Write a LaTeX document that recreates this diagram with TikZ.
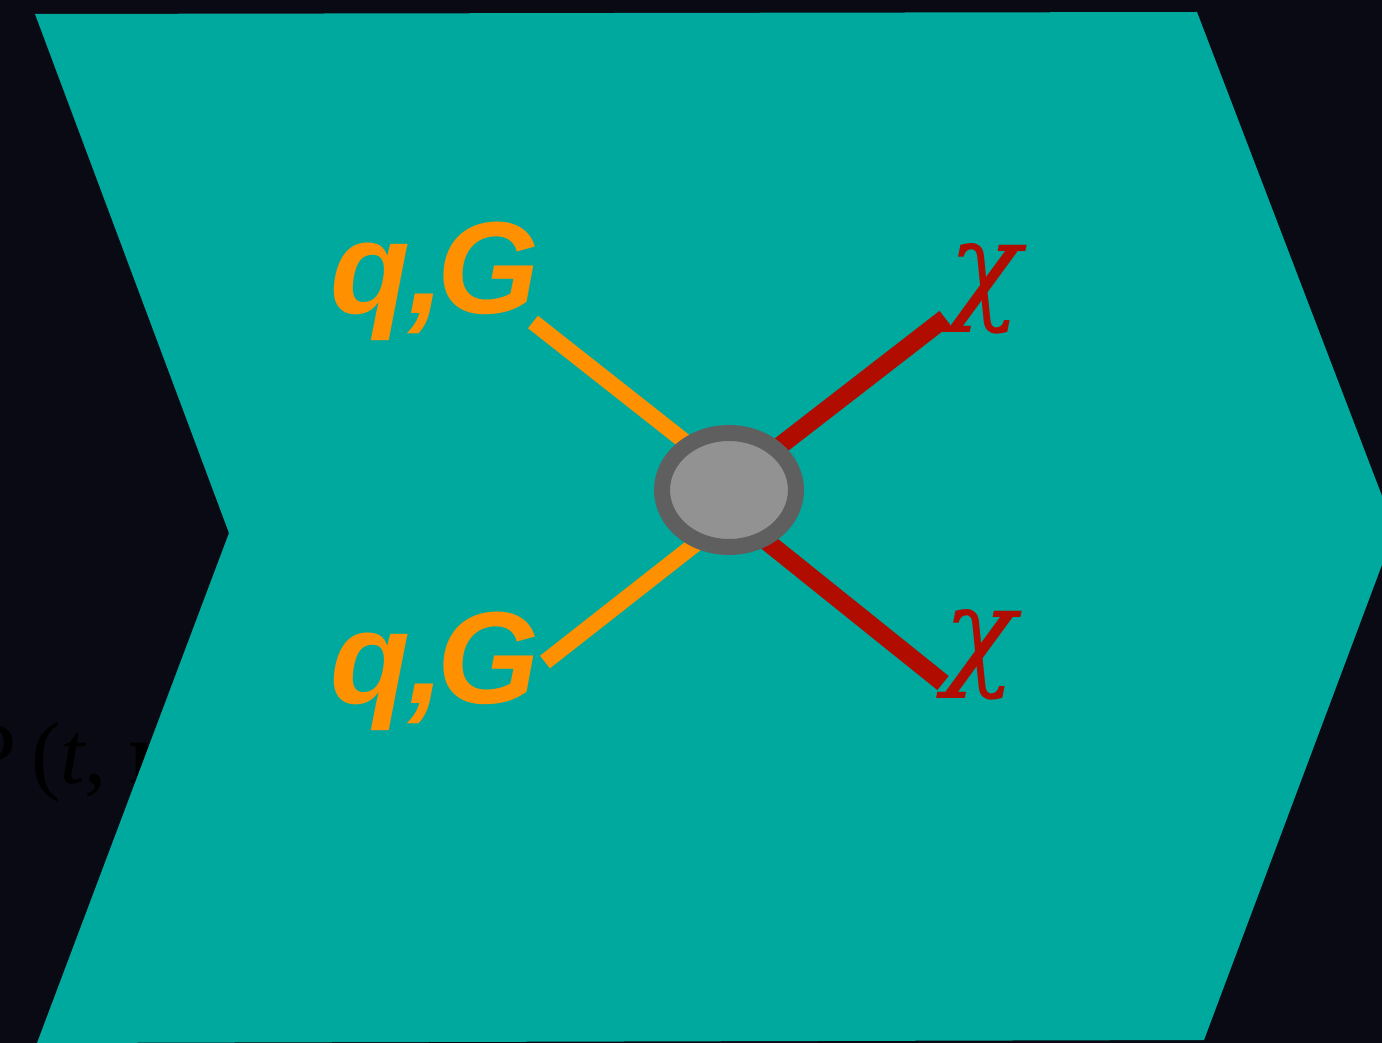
\documentclass[tikz,border=0pt]{standalone}
\usepackage{fontspec}
\setmainfont{Liberation Serif}
\newfontfamily\labsans{Liberation Sans}
\newfontfamily\chifont{DejaVu Serif}
\definecolor{bgdark}{HTML}{0A0A14}
\definecolor{teal}{HTML}{00A99D}
\definecolor{qorange}{HTML}{FF9100}
\definecolor{chired}{HTML}{B00C00}
\definecolor{blobfill}{HTML}{929292}
\definecolor{blobedge}{HTML}{5F5F5F}
\tikzset{
  qline/.style={draw=qorange, line width=16pt},
  chiline/.style={draw=chired, line width=18pt},
  qlab/.style={text=qorange, font=\labsans\bfseries\itshape\fontsize{131}{131}\selectfont, inner sep=0pt},
  chilab/.style={text=chired, inner sep=0pt, font=\chifont\itshape\fontsize{120}{120}\selectfont},
}
\begin{document}
\begin{tikzpicture}[x=1pt,y=-1pt]
\useasboundingbox (0,0) rectangle (1382,1043);
\clip (0,0) rectangle (1382,1043);
\fill[bgdark] (0,0) rectangle (1382,1043);
\node[anchor=base west, inner sep=0pt, font=\fontsize{88}{88}\selectfont, text=black] (ptr) at (-33,783) {P\hspace{15pt}(\textit{t}, \textbf{r})};
\fill[teal] (35,14) -- (1197,12) -- (1395,530) -- (1204,1040) -- (37,1043) -- (229,533) -- cycle;
\coordinate (c) at (729,490);
\coordinate (ul) at (533,322);
\coordinate (ulin) at (712,463);
\coordinate (ll) at (545,662);
\coordinate (llin) at (712,531);
\coordinate (ur) at (945,318);
\coordinate (urin) at (750,469);
\coordinate (lr) at (943,683);
\coordinate (lrin) at (745,524);
\draw[qline] (ul) -- (ulin);
\draw[qline] (ll) -- (llin);
\draw[chiline] (ur) -- (urin);
\draw[chiline] (lr) -- (lrin);
\draw[blobedge, fill=blobfill, line width=16pt] (c) ellipse [x radius=67, y radius=57];
\node[qlab, anchor=base west] (q1) at (330,313) {q\kern-2pt,\kern-7pt G};
\node[qlab, anchor=base west] (q2) at (330,703) {q\kern-2pt,\kern-7pt G};
\node[chilab] (x1) at (985,289) {χ};
\node[chilab] (x2) at (980,655) {χ};
\end{tikzpicture}
\end{document}
